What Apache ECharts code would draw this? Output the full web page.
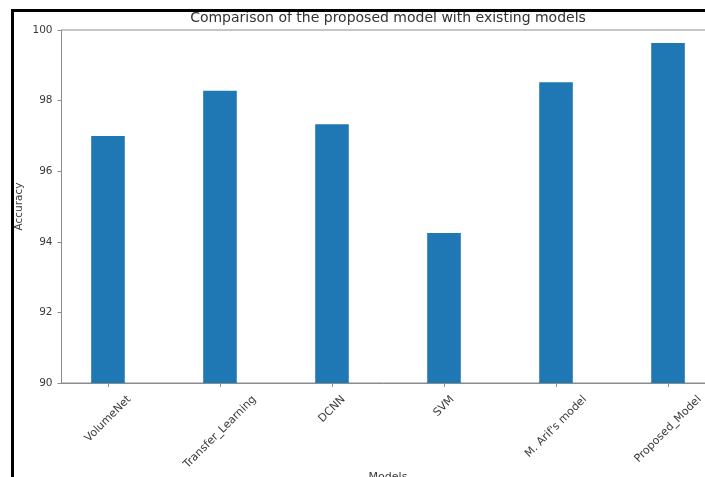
<!DOCTYPE html>
<html><head><meta charset="utf-8">
<script src="https://cdn.jsdelivr.net/npm/echarts@6/dist/echarts.min.js"></script>
<style>html,body{margin:0;padding:0;background:#fff}#c{width:705px;height:477px}</style>
</head><body><div id="c"></div>
<script>
const categories = ['VolumeNet', 'Transfer_Learning', 'DCNN', 'SVM', "M. Arif's model", 'Proposed_Model'];
const accuracy = [97.0, 98.28, 97.33, 94.25, 98.52, 99.63];
const yTicks = [90, 92, 94, 96, 98, 100];
const titleText = 'Comparison of the proposed model with existing models';
const xName = 'Models';
const yName = 'Accuracy';

const FONT = 'DejaVu Sans';
const LABEL_SIZE = 11;
const AXIS_COLOR = '#8c8c8c';
const TEXT_COLOR = '#3a3a3a';

// matplotlib-like centred rotated labels: shift each label so its bbox hangs under the tick
const ctx = document.createElement('canvas').getContext('2d');
ctx.font = LABEL_SIZE + 'px "' + FONT + '"';
const rich = {};
categories.forEach((c, i) => {
  const w = ctx.measureText(c).width;
  const h = LABEL_SIZE * 1.2;
  const p = (w + h) / 2;
  rich['c' + i] = { padding: [p, p, 0, 0], fontFamily: FONT, fontSize: LABEL_SIZE, color: TEXT_COLOR };
});
const positions = categories.map((_, i) => i);
const barData = accuracy.map((v, i) => [i, v]);

const chart = echarts.init(document.getElementById('c'), null, { renderer: 'canvas' });
chart.setOption({
  animation: false,
  backgroundColor: '#fff',
  title: {
    text: titleText, left: 388, top: 11, padding: 0, textAlign: 'center',
    textStyle: { fontFamily: FONT, fontSize: 14, fontWeight: 'normal', color: '#333' }
  },
  grid: {
    left: 61.5, top: 30, width: 653, bottom: 94,
    show: true, borderColor: AXIS_COLOR, borderWidth: 1, backgroundColor: 'transparent',
    containLabel: false, outerBoundsMode: 'none'
  },
  xAxis: {
    type: 'value', min: -0.415, max: 5.415,
    name: xName, nameLocation: 'middle', nameGap: 89, nameMoveOverlap: false,
    nameTextStyle: { fontFamily: FONT, fontSize: 11, color: TEXT_COLOR },
    axisLine: { show: true, onZero: false, lineStyle: { color: AXIS_COLOR, width: 1 } },
    axisTick: { show: true, customValues: positions, length: 4, lineStyle: { color: AXIS_COLOR } },
    axisLabel: {
      customValues: positions, rotate: 45, align: 'center', verticalAlign: 'middle', margin: 10,
      formatter: v => '{c' + v + '|' + categories[v] + '}', rich: rich
    },
    splitLine: { show: false }
  },
  yAxis: {
    type: 'value', min: yTicks[0], max: yTicks[yTicks.length - 1], interval: 2,
    name: yName, nameLocation: 'middle', nameGap: 37, nameRotate: 90, nameMoveOverlap: false,
    nameTextStyle: { fontFamily: FONT, fontSize: 10.5, color: TEXT_COLOR },
    axisLine: { show: true, onZero: false, lineStyle: { color: AXIS_COLOR, width: 1 } },
    axisTick: { show: true, length: 4, lineStyle: { color: AXIS_COLOR } },
    axisLabel: { fontFamily: FONT, fontSize: 10.5, color: TEXT_COLOR, margin: 9 },
    splitLine: { show: false }
  },
  series: [{
    type: 'bar', data: barData, barWidth: '30%',
    itemStyle: { color: '#1f77b4' }
  }],
  graphic: [{
    type: 'rect', silent: true, z: 100,
    shape: { x: 12.5, y: 10.5, width: 1000, height: 1000 },
    style: { fill: 'none', stroke: '#000', lineWidth: 3 }
  }]
});
</script>
</body></html>
